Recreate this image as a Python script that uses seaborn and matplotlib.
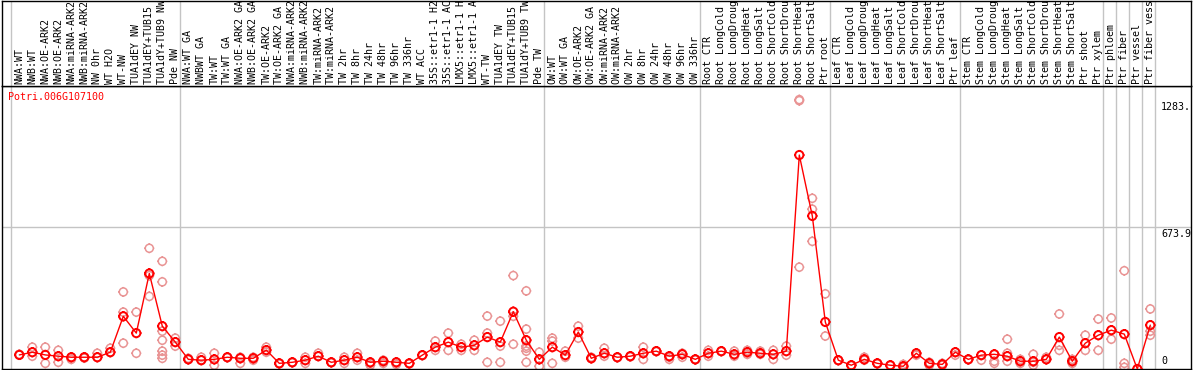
import numpy as np
import pandas as pd
import matplotlib
matplotlib.use("Agg")
import matplotlib.pyplot as plt
import matplotlib.transforms as mtransforms
from matplotlib.path import Path
from matplotlib.markers import MarkerStyle
import seaborn as sns

samples = [
    "NWA:WT", "NWB:WT", "NWA:OE-ARK2", "NWB:OE-ARK2", "NWA:miRNA-ARK2", "NWB:miRNA-ARK2",
    "NW 0hr", "WT H2O", "WT-NW", "TUA1dEY NW", "TUA1dEY+TUB15 NW", "TUA1dY+TUB9 NW", "Pde NW",
    "NWA:WT GA", "NWBWT GA", "TW:WT", "TW:WT GA", "NWA:OE-ARK2 GA", "NWB:OE-ARK2 GA",
    "TW:OE-ARK2", "TW:OE-ARK2 GA", "NWA:miRNA-ARK2 GA", "NWB:miRNA-ARK2 GA", "TW:miRNA-ARK2",
    "TW:miRNA-ARK2 GA", "TW 2hr", "TW 8hr", "TW 24hr", "TW 48hr", "TW 96hr", "TW 336hr", "WT ACC",
    "35S::etr1-1 H2O", "35S::etr1-1 ACC", "LMX5::etr1-1 H2O", "LMX5::etr1-1 ACC", "WT-TW",
    "TUA1dEY TW", "TUA1dEY+TUB15 TW", "TUA1dY+TUB9 TW", "Pde TW",
    "OW:WT", "OW:WT GA", "OW:OE-ARK2", "OW:OE-ARK2 GA", "OW:miRNA-ARK2", "OW:miRNA-ARK2 GA",
    "OW 2hr", "OW 8hr", "OW 24hr", "OW 48hr", "OW 96hr", "OW 336hr",
    "Root CTR", "Root LongCold", "Root LongDrought", "Root LongHeat", "Root LongSalt",
    "Root ShortCold", "Root ShortDrought", "Root ShortHeat", "Root ShortSalt", "Ptr root",
    "Leaf CTR", "Leaf LongCold", "Leaf LongDrought", "Leaf LongHeat", "Leaf LongSalt",
    "Leaf ShortCold", "Leaf ShortDrought", "Leaf ShortHeat", "Leaf ShortSalt", "Ptr leaf",
    "Stem CTR", "Stem LongCold", "Stem LongDrought", "Stem LongHeat", "Stem LongSalt",
    "Stem ShortCold", "Stem ShortDrought", "Stem ShortHeat", "Stem ShortSalt", "Ptr shoot",
    "Ptr xylem", "Ptr phloem", "Ptr fiber", "Ptr vessel", "Ptr fiber vessel",
]

means = [
    67, 80, 67, 61, 56, 56, 56, 80, 251, 171, 455, 204, 128,
    46, 42, 46, 56, 51, 51, 90, 27, 32, 42, 61, 32, 42, 56, 32, 37, 32, 27, 66,
    104, 128, 104, 113, 152, 128, 273, 137, 46,
    104, 66, 176, 51, 75, 56, 61, 75, 85, 61, 70, 46,
    75, 85, 70, 80, 75, 70, 85, 1019, 729, 224,
    42, 18, 46, 27, 18, 13, 75, 27, 22, 80,
    46, 66, 70, 61, 37, 37, 46, 152, 37, 123, 161,
    185, 166, 0, 209,
]

replicates = [
    [67, 70], [104, 61], [104, 27], [89, 32], [46, 56], [56, 52], [75, 56], [99, 80],
    [367, 271, 123], [271, 75], [575, 346, 445], [513, 415, 180, 137, 85, 66, 51], [147, 109],
    [51, 46], [56, 42], [75, 18], [56, 54], [56, 27], [42, 56], [104, 80], [27, 25], [32, 30],
    [56, 27], [75, 61], [32, 30], [56, 27], [75, 42], [27, 18], [42, 27], [32, 22], [27, 25],
    [66, 64], [133, 89], [171, 89], [118, 89], [137, 89], [252, 171, 32], [228, 109, 32],
    [445, 251, 118], [372, 190, 109, 99, 85, 32], [80, 13],
    [147, 133, 27], [85, 56], [204, 147], [56, 50], [99, 61], [56, 54], [61, 58], [104, 46],
    [85, 83], [46, 56], [56, 75], [46, 44],
    [89, 61], [85, 83], [85, 61], [89, 70], [85, 70], [89, 46], [109, 66], [1283, 1278, 485],
    [813, 761, 608], [358, 157],
    [42, 40], [18, 16], [56, 42], [27, 25], [18, 16], [22, 8], [75, 66], [32, 18], [27, 18],
    [80, 66],
    [46, 44], [66, 42], [70, 37, 27], [142, 75, 37], [46, 27], [70, 32, 18], [56, 46],
    [262, 113, 89], [46, 27], [161, 89], [238, 89],
    [243, 142], [468, 27, 8], [0], [286, 180, 161],
]

separators = [0, 13, 41, 53, 63, 73, 84, 85, 86, 87, 88]
gene_id = "Potri.006G107100"
ymax = 1347.8
value_labels = [(1283, "1283.", "top"), (673.9, "673.9", "top"), (0, "0", "bottom")]

# ---------------------------------------------------------------- style
sns.set_style("white")
plt.rcParams["font.family"] = ["DejaVu Sans Mono", "DejaVu Sans"]
FS = 7.2
GRID = "#c4c4c4"
RED = "#ff0000"
PINK = "#e99494"

W, H = 1194, 370
fig = plt.figure(figsize=(W / 100, H / 100), dpi=100)
fig.patch.set_facecolor("white")


def px_axes(x0, y0, x1, y1):
    return fig.add_axes([x0 / W, 1 - y1 / H, (x1 - x0) / W, (y1 - y0) / H])


ax = px_axes(1.5, 86, 1190.5, 369)
lab = px_axes(1.5, 0.5, 1190.5, 86)

x0_px, step_px = 19.3, 13.0
xlim = ((1.5 - x0_px) / step_px, (1190.5 - x0_px) / step_px)

# ---------------------------------------------------------------- data frames
idx = np.arange(len(samples))
df_mean = pd.DataFrame({"idx": idx, "value": means})
rep_rows = [(i, v) for i, reps in enumerate(replicates) for v in reps]
df_rep = pd.DataFrame(rep_rows, columns=["idx", "value"])

# marker: open circle with four small ticks
r = 0.8
circ = Path.circle((0, 0), r)
ticks = Path(
    [(0, r), (0, 1), (0, -r), (0, -1), (r, 0), (1, 0), (-r, 0), (-1, 0)],
    [Path.MOVETO, Path.LINETO] * 4,
)
mpath = Path.make_compound_path(circ, ticks)
mstyle = MarkerStyle(mpath)

# ---------------------------------------------------------------- main plot
for s in separators:
    ax.axvline(s - 0.67, color=GRID, lw=1, zorder=0)
    lab.axvline(s - 0.67, color=GRID, lw=1, zorder=0)
ax.axhline(ymax / 2, color=GRID, lw=1, zorder=0)

sns.scatterplot(data=df_rep, x="idx", y="value", ax=ax, marker=mstyle, s=52,
                facecolors="none", edgecolor=PINK, linewidths=1.1, zorder=2, legend=False)
sns.lineplot(data=df_mean, x="idx", y="value", ax=ax, color=RED, lw=1.0, zorder=3)
sns.scatterplot(data=df_mean, x="idx", y="value", ax=ax, marker=mstyle, s=54,
                facecolors="none", edgecolor=RED, linewidths=1.4, zorder=4, legend=False)

ax.set_xlim(*xlim)
ax.set_ylim(0, ymax)
ax.set_xticks([])
ax.set_yticks([])
ax.set_xlabel("")
ax.set_ylabel("")
for sp in ax.spines.values():
    sp.set_visible(True)
    sp.set_color("black")
    sp.set_linewidth(1)

ax.text(0.0055, 0.962, gene_id, transform=ax.transAxes, color=RED, fontsize=FS,
        ha="left", va="center")

lab_x = (1161 - x0_px) / step_px
for v, txt, va in value_labels:
    off = -2 if va == "top" else 3
    ax.annotate(txt, xy=(lab_x, v), xytext=(0, off), textcoords="offset pixels",
                ha="left", va=va, fontsize=FS, color="black", annotation_clip=False)

# ---------------------------------------------------------------- label strip
lab.set_xlim(*xlim)
lab.set_ylim(0, 1)
lab.set_xticks([])
lab.set_yticks([])
for sp in lab.spines.values():
    sp.set_visible(True)
    sp.set_color("black")
    sp.set_linewidth(1)
trans = mtransforms.blended_transform_factory(lab.transData, lab.transAxes)
for i, name in enumerate(samples):
    lab.text(i, 0.025, name, transform=trans, rotation=90, ha="center", va="bottom",
             fontsize=FS, color="black", clip_on=True)

fig.savefig("out.png", dpi=100, facecolor="white")
